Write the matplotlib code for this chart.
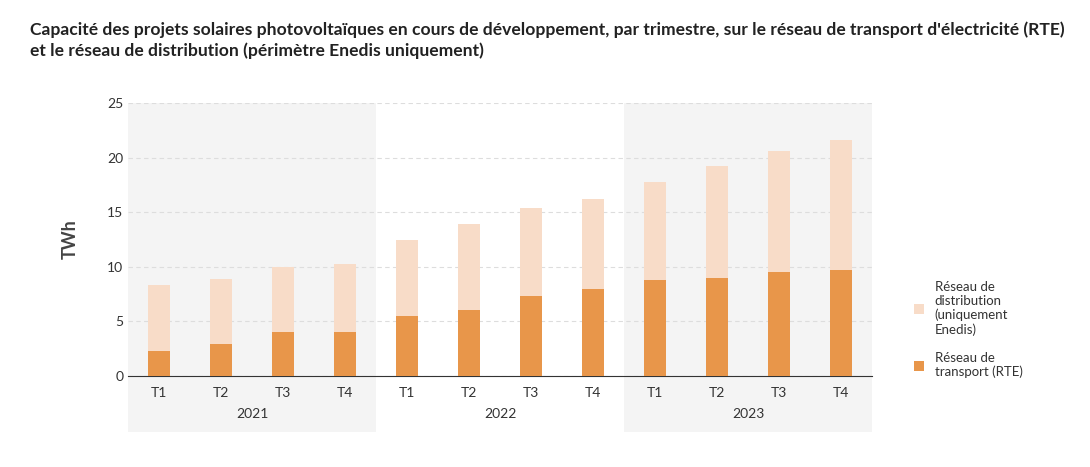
import matplotlib.pyplot as plt
from matplotlib.patches import Rectangle
import numpy as np

quarters = ['T1', 'T2', 'T3', 'T4'] * 3
years = ['2021', '2022', '2023']
rte = [2.3, 2.9, 4.0, 4.0, 5.5, 6.0, 7.3, 8.0, 8.8, 9.0, 9.5, 9.7]
total = [8.3, 8.9, 10.0, 10.25, 12.5, 13.9, 15.4, 16.2, 17.8, 19.2, 20.6, 21.6]
distrib = [t - r for t, r in zip(total, rte)]

plt.rcParams['font.family'] = ['Lato', 'DejaVu Sans']
fig = plt.figure(figsize=(10.9, 4.67), dpi=100)
ax = fig.add_axes([128 / 1090, 0.1949, (872 - 128) / 1090, 0.7794 - 0.1949])

x = np.arange(len(quarters))
ax.set_xlim(-0.5, len(quarters) - 0.5)
ax.set_ylim(0, 25)

# shaded year bands (2021, 2023)
for k in (0, 2):
    ax.add_patch(Rectangle((k * 4 - 0.5, -0.205), 4, 1.205, transform=ax.get_xaxis_transform(),
                           facecolor='#F4F4F4', edgecolor='none', clip_on=False, zorder=0))

ax.yaxis.grid(True, color='#DDDDDD', linestyle=(0, (4, 3)), linewidth=0.8, zorder=1)
ax.set_axisbelow(True)

ax.bar(x, rte, width=0.36, color='#E8964A', zorder=3, label='Réseau de\ntransport (RTE)')
ax.bar(x, distrib, bottom=rte, width=0.36, color='#F8DCC8', zorder=3,
       label='Réseau de\ndistribution\n(uniquement\nEnedis)')

for s in ['top', 'right', 'left']:
    ax.spines[s].set_visible(False)
ax.spines['bottom'].set_color('#333333')
ax.set_xticks(x)
ax.set_xticklabels(quarters, fontsize=10, color='#333333')
ax.tick_params(axis='x', length=0, pad=8)
ax.tick_params(axis='y', length=0, labelsize=10, labelcolor='#333333')
ax.set_yticks([0, 5, 10, 15, 20, 25])
for i, yr in enumerate(years):
    ax.text(i * 4 + 1.5, -0.14, yr, transform=ax.get_xaxis_transform(), ha='center',
            va='center', fontsize=10, color='#333333')
ax.set_ylabel('TWh', fontsize=13, fontweight='bold', color='#444444', labelpad=20)

h, l = ax.get_legend_handles_labels()
ax.legend(h[::-1], l[::-1], loc='center left', bbox_to_anchor=(1.04, 0.17), frameon=False,
          fontsize=9.5, handlelength=0.8, handleheight=0.8, labelspacing=1.2,
          labelcolor='#333333')

fig.text(30 / 1090, 1 - 40 / 467,
         "Capacité des projets solaires photovoltaïques en cours de développement, par trimestre, sur le réseau de transport d'électricité (RTE)\net le réseau de distribution (périmètre Enedis uniquement)",
         fontsize=12.6, fontweight='bold', color='#222222', va='center', linespacing=1.35)

fig.savefig('out.png', dpi=100, facecolor='white')
